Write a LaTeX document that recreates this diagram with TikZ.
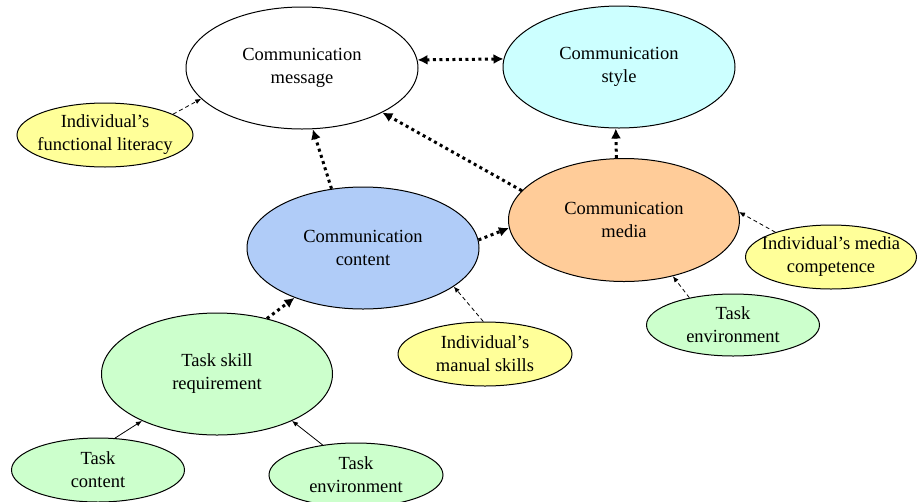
\documentclass[tikz,border=0pt]{standalone}
\usepackage{fontspec}
\setmainfont{Liberation Serif}
\usetikzlibrary{shapes.geometric,arrows.meta}
\definecolor{cyellow}{RGB}{255,255,153}
\definecolor{cgreen}{RGB}{204,255,204}
\definecolor{cblue}{RGB}{176,204,248}
\definecolor{ccyan}{RGB}{204,255,255}
\definecolor{corange}{RGB}{255,204,153}
\tikzset{
  bigell/.style={ellipse, draw=black, line width=1pt, inner xsep=-20pt, inner ysep=-10pt,
    minimum width=232pt, minimum height=122pt, align=center,
    font=\fontsize{18.5}{23}\selectfont},
  smallell/.style={ellipse, draw=black, line width=1pt, inner xsep=-30pt, inner ysep=-10pt,
    minimum width=174pt, minimum height=64pt, align=center,
    font=\fontsize{18.5}{23}\selectfont},
  dotarrow/.style={line width=3pt, dash pattern=on 3pt off 3.5pt,
    -{Latex[length=10pt,width=10pt]}},
  dotboth/.style={line width=3pt, dash pattern=on 3pt off 3.5pt,
    {Latex[length=10pt,width=10pt]}-{Latex[length=10pt,width=10pt]}},
  dasharrow/.style={line width=0.8pt, dash pattern=on 4pt off 3pt,
    -{Latex[length=6pt,width=5pt]}},
  solidarrow/.style={line width=0.8pt, -{Latex[length=6pt,width=5pt]}}
}
\begin{document}
\begin{tikzpicture}[x=1pt,y=-1pt]
\useasboundingbox (0,0) rectangle (918,501);
\node[bigell, fill=white] (msg) at (302,68) {Communication\\message};
\node[bigell, fill=ccyan] (style) at (619,67) {Communication\\style};
\node[smallell, minimum width=176pt, fill=cyellow] (lit) at (105,135) {Individual’s\\functional literacy};
\node[bigell, fill=cblue] (content) at (363,248) {Communication\\content};
\node[bigell, minimum width=231pt, minimum height=123pt, fill=corange] (media) at (624,220) {Communication\\media};
\node[smallell, minimum width=171pt, fill=cyellow] (comp) at (831,257) {Individual’s media\\competence};
\node[smallell, minimum width=173pt, minimum height=62pt, fill=cgreen] (envr) at (733,325) {Task\\environment};
\node[bigell, minimum width=231pt, fill=cgreen] (skill) at (217,374) {Task skill\\requirement};
\node[smallell, minimum width=173pt, fill=cgreen] (tcont) at (98,470) {Task\\content};
\node[smallell, minimum width=174pt, fill=cgreen] (envb) at (356,475) {Task\\environment};
\node[smallell, fill=cyellow] (manual) at (485,354) {Individual’s\\manual skills};

\draw[dotboth] (msg.4) -- (style.176);
\draw[dotarrow] (content.118) -- (msg.280);
\draw[dotarrow] (media.164) -- (msg.331);
\draw[dotarrow] (media.97) -- (style.267);
\draw[dotarrow] (content.4) -- (media.184);
\draw[dotarrow] (skill.48) -- (content.216);
\draw[dasharrow] (lit.17) -- (msg.197);
\draw[dasharrow] (manual.93) -- (content.337);
\draw[dasharrow] (comp.156) -- (media.4);
\draw[dasharrow] (envr.148) -- (media.311);
\draw[solidarrow] (tcont.62) -- (skill.212);
\draw[solidarrow] (envb.138) -- (skill.328);
\end{tikzpicture}
\end{document}
